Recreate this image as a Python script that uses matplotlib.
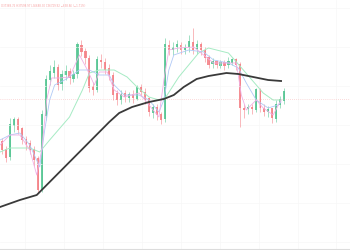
import matplotlib
matplotlib.use("Agg")
import matplotlib.pyplot as plt
import numpy as np

# candle data (price units)
opens = [108, 100, 93, 124, 130, 121, 110, 106, 100, 91,
         60, 134, 170, 177, 182, 166, 175, 178, 171, 176,
         204, 198, 191, 163, 160, 189, 187, 181, 174, 156,
         150, 156, 152, 155, 151, 162, 157, 151, 137, 142,
         135, 131, 204, 200, 203, 204, 200, 203, 207, 201,
         205, 199, 192, 186, 188, 184, 187, 185, 187, 190,
         185, 141, 141, 142, 140, 160, 141, 138, 141, 131,
         145, 149]
closes = [100, 92, 125, 130, 120, 110, 105, 100, 90, 60,
          135, 170, 178, 182, 165, 175, 178, 172, 175, 205,
          198, 192, 162, 160, 190, 188, 180, 175, 155, 150,
          155, 153, 155, 152, 162, 158, 150, 138, 142, 135,
          130, 205, 200, 202, 205, 200, 202, 208, 200, 205,
          200, 192, 185, 188, 185, 187, 184, 188, 190, 185,
          142, 140, 142, 141, 160, 142, 138, 140, 132, 145,
          150, 158]
highs = [112, 104, 132, 133, 133, 123, 114, 110, 104, 94,
         140, 175, 185, 190, 186, 180, 185, 182, 180, 208,
         210, 202, 195, 168, 194, 196, 192, 186, 178, 160,
         160, 160, 158, 160, 165, 166, 162, 153, 146, 146,
         138, 212, 210, 208, 210, 208, 206, 215, 222, 210,
         208, 203, 195, 192, 190, 190, 190, 193, 192, 192,
         188, 146, 146, 146, 162, 162, 146, 144, 142, 150,
         154, 162]
lows = [96, 88, 90, 118, 116, 106, 100, 96, 84, 57,
        58, 130, 165, 172, 160, 160, 170, 166, 168, 172,
        194, 186, 158, 155, 158, 182, 176, 170, 150, 145,
        146, 148, 148, 147, 150, 154, 146, 134, 132, 130,
        126, 128, 195, 195, 198, 196, 196, 198, 196, 196,
        195, 188, 182, 182, 182, 182, 180, 182, 185, 180,
        123, 132, 136, 136, 138, 138, 134, 133, 127, 128,
        142, 146]

# moving averages (index, value)
ma_long_x = [-0.5, 4.5, 8.75, 12, 16.25, 22, 27, 29.5, 32.75, 37,
             40.75, 43.25, 45.75, 49, 52, 56.5, 59.5, 63.25, 67, 70.25]
ma_long_y = [43, 50, 55, 68, 85, 108, 128, 137, 143, 148,
             151, 155, 163, 171, 174, 177, 176, 173, 170, 169]

ma_green_x = [-0.5, 2, 7, 9.5, 12, 17, 20.25, 22, 24.5, 28.25,
              31.5, 34, 37, 39.5, 41.25, 44.5, 49.5, 52, 57, 59,
              60.75, 65.75, 68.25, 70.25]
ma_green_y = [98, 102, 102, 98, 110, 133, 160, 177, 180, 180,
              173, 163, 153, 150, 153, 173, 197, 202, 197, 188,
              180, 157, 150, 150]

ma_blue_x = [-0.5, 2, 4.5, 7, 9.5, 10.75, 12, 13.25, 15.75, 19.5,
             22, 24.5, 27, 28.25, 30.75, 34.5, 37, 39.5, 40.75, 42,
             43.25, 47, 50.75, 53.25, 57, 59.5, 61.5, 64, 67, 69.5, 70.25]
ma_blue_y = [110, 115, 117, 105, 83, 120, 150, 165, 170, 180,
             180, 175, 175, 165, 155, 155, 150, 138, 150, 180,
             195, 200, 198, 190, 187, 182, 167, 150, 142, 145, 148]

ma_pink_x = [-0.5, 2, 4.5, 7, 8.75, 10, 11.25, 12.5, 14.5, 17,
             19.5, 21.5, 23.25, 24.5, 26.5, 28.25, 30.75, 34.5, 37, 39.5,
             40.75, 42, 44.5, 48.25, 50.75, 53.25, 57, 59, 60.25, 61.5,
             64, 65.75, 68.25, 70.25]
ma_pink_y = [105, 115, 115, 100, 75, 100, 150, 172, 172, 173,
             195, 180, 165, 178, 178, 160, 153, 157, 145, 133,
             170, 200, 202, 203, 195, 187, 187, 187, 155, 140,
             150, 142, 135, 150]

ref_level = 151
quote = "O37368.76 H37598.97 L36688.30 C36729.92 \u2212638.86 (\u22121.71%)"

up_col = "#4fc48e"
dn_col = "#f47c82"

fig = plt.figure(figsize=(3.5, 2.5), dpi=100)
ax = fig.add_axes([0, 0, 1, 1])
ax.set_facecolor("white")

idx = np.arange(len(closes))
o = np.array(opens)
c = np.array(closes)
cols = [up_col if cc >= oo else dn_col for oo, cc in zip(o, c)]

# grid
ax.set_xticks(np.arange(5.8, 88, 9.8))
ax.set_yticks(np.arange(8, 250, 39))
ax.grid(True, color="#f7f7f7", lw=0.5)
ax.tick_params(length=0, labelbottom=False, labelleft=False)

ax.axhline(ref_level, color="#f7b8b8", lw=0.5, ls=(0, (1, 2)))

# candles
ax.vlines(idx, lows, highs, colors=cols, lw=0.5, alpha=0.75)
ax.bar(idx, np.abs(c - o) + 0.8, bottom=np.minimum(o, c), width=0.55,
       color=cols, alpha=0.85, linewidth=0)

# moving averages
ax.plot(ma_green_x, ma_green_y, color="#a6ebc4", lw=0.7)
ax.plot(ma_blue_x, ma_blue_y, color="#b0c9f6", lw=0.6)
ax.plot(ma_pink_x, ma_pink_y, color="#f0b0e6", lw=0.6)
ax.plot(ma_long_x, ma_long_y, color="#3a3a3a", lw=1.3)

ax.text(0.003, 0.985, quote, transform=ax.transAxes, fontsize=1.9,
        color="#f6a0a0", va="top", ha="left")

ax.set_xlim(-0.5, 87.6)
ax.set_ylim(0, 250)
for s in ax.spines.values():
    s.set_visible(False)
ax.axhline(1.5, color="#dcdcdc", lw=0.8)

fig.savefig("out.png", dpi=100)
